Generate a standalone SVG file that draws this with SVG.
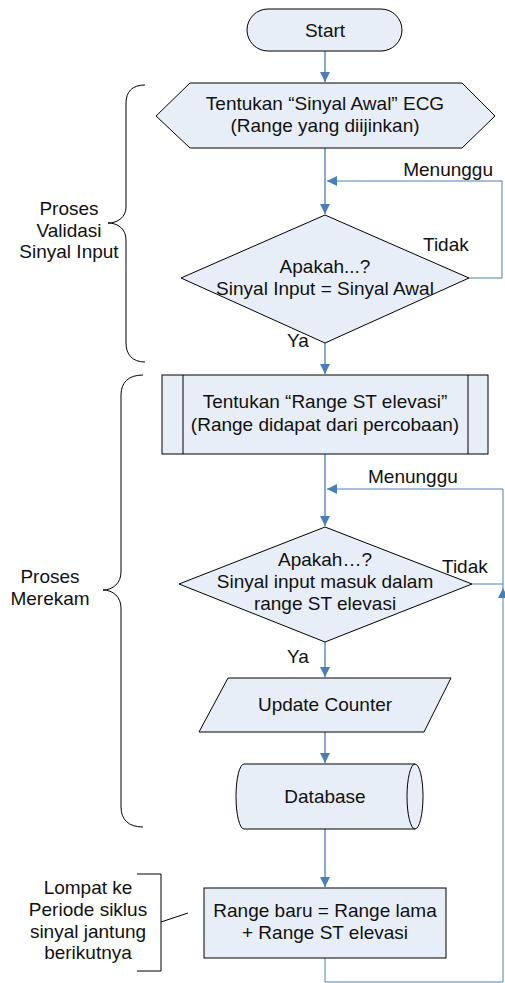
<svg xmlns="http://www.w3.org/2000/svg" width="505" height="983" viewBox="0 0 505 983">
<style>
  .shape { fill: #E8EEF7; stroke: #000; stroke-width: 1; }
  .conn { fill: none; stroke: #4A7EBB; stroke-width: 1.3; }
  .loop { fill: none; stroke: #4A7EBB; stroke-width: 1; }
  .brace { fill: none; stroke: #000; stroke-width: 1; }
  text { font-family: "Liberation Sans", Arial, sans-serif; font-size: 19px; fill: #111; }
  .c { text-anchor: middle; }
</style>
<defs>
  <marker id="arr" markerUnits="userSpaceOnUse" markerWidth="11" markerHeight="11" refX="10" refY="5" orient="auto">
    <path d="M0,0 L10,5 L0,10 Z" fill="#4A7EBB"/>
  </marker>
</defs>

<g id="connectors">
  <path class="conn" d="M325,51 V82" marker-end="url(#arr)"/>
  <path class="conn" d="M325,148 V214" marker-end="url(#arr)"/>
  <path class="loop" d="M469,278 H502 V181 H327" marker-end="url(#arr)"/>
  <path class="conn" d="M325,343 V374" marker-end="url(#arr)"/>
  <path class="conn" d="M325,454 V526" marker-end="url(#arr)"/>
  <path class="loop" d="M472,584 H503"/>
  <path class="loop" d="M325,958 V982 H503 V588" marker-end="url(#arr)"/>
  <path class="loop" d="M503,588 V489 H327" marker-end="url(#arr)"/>
  <path class="conn" d="M325,642 V677" marker-end="url(#arr)"/>
  <path class="conn" d="M325,732 V763" marker-end="url(#arr)"/>
  <path class="conn" d="M325,829 V887" marker-end="url(#arr)"/>
</g>

<g id="start">
  <rect class="shape" x="247" y="9" width="155" height="42" rx="21" ry="21"/>
  <text class="c" x="325" y="37">Start</text>
</g>

<g id="sinyal-awal">
  <polygon class="shape" points="156,116 190,83 462,83 495,116 462,148 190,148"/>
  <text class="c" x="325" y="110">Tentukan “Sinyal Awal” ECG</text>
  <text class="c" x="325" y="132">(Range yang diijinkan)</text>
</g>

<g id="decision1">
  <polygon class="shape" points="325,215 469,278 325,343 181,278"/>
  <text class="c" x="325" y="273">Apakah...?</text>
  <text class="c" x="325" y="295">Sinyal Input = Sinyal Awal</text>
</g>

<g id="range-st">
  <rect class="shape" x="162" y="375" width="326" height="79"/>
  <line x1="183" y1="375" x2="183" y2="454" stroke="#000" stroke-width="1"/>
  <line x1="468" y1="375" x2="468" y2="454" stroke="#000" stroke-width="1"/>
  <text class="c" x="325" y="408">Tentukan “Range ST elevasi”</text>
  <text class="c" x="325" y="431">(Range didapat dari percobaan)</text>
</g>

<g id="decision2">
  <polygon class="shape" points="325,527 472,584 325,642 179,584"/>
  <text class="c" x="325" y="566">Apakah…?</text>
  <text class="c" x="325" y="588">Sinyal input masuk dalam</text>
  <text class="c" x="325" y="610">range ST elevasi</text>
</g>

<g id="update-counter">
  <polygon class="shape" points="228,678 451,678 424,732 199,732"/>
  <text class="c" x="325" y="711">Update Counter</text>
</g>

<g id="database">
  <path class="shape" d="M244,764 H415 A8,32.5 0 0 1 415,829 H244 A8,32.5 0 0 1 244,764 Z"/>
  <path fill="none" stroke="#000" stroke-width="1" d="M415,764 A8,32.5 0 0 0 415,829"/>
  <text class="c" x="325" y="803">Database</text>
</g>

<g id="range-baru">
  <rect class="shape" x="204" y="888" width="242" height="70"/>
  <text class="c" x="325" y="917">Range baru = Range lama</text>
  <text class="c" x="325" y="939">+ Range ST elevasi</text>
</g>

<g id="labels">
  <text x="493" y="176" text-anchor="end">Menunggu</text>
  <text x="423" y="251">Tidak</text>
  <text x="287" y="347">Ya</text>
  <text x="368" y="483">Menunggu</text>
  <text x="442" y="573">Tidak</text>
  <text x="287" y="663">Ya</text>
</g>

<g id="brace-validasi">
  <path class="brace" d="M145,85 C132,85 126,92 126,103 V207 C126,217 118,223 108,223 C118,223 126,229 126,240 V343 C126,354 132,362 145,362"/>
  <text class="c" x="69" y="215">Proses</text>
  <text class="c" x="69" y="237">Validasi</text>
  <text class="c" x="69" y="258">Sinyal Input</text>
</g>

<g id="brace-merekam">
  <path class="brace" d="M143,375 C128,375 121,383 121,395 V572 C121,583 113,590 103,590 C113,590 121,597 121,608 V807 C121,819 128,827 143,827"/>
  <text class="c" x="50" y="583">Proses</text>
  <text class="c" x="50" y="605">Merekam</text>
</g>

<g id="annotation">
  <path class="brace" d="M137,874 H161 V971 H137"/>
  <line x1="161" y1="922" x2="188" y2="913" stroke="#000" stroke-width="1"/>
  <text class="c" x="88" y="894">Lompat ke</text>
  <text class="c" x="88" y="916">Periode siklus</text>
  <text class="c" x="88" y="938">sinyal jantung</text>
  <text class="c" x="88" y="959">berikutnya</text>
</g>
</svg>
